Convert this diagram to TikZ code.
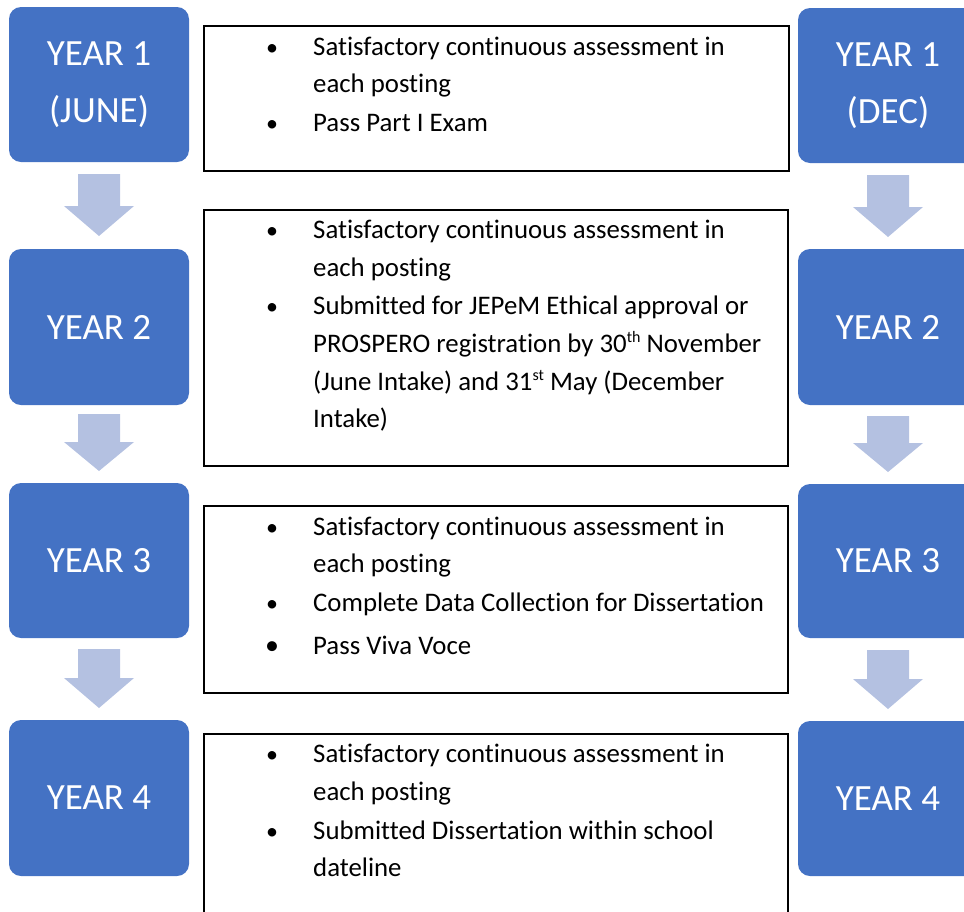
\documentclass[tikz,border=0pt]{standalone}
\usepackage{fontspec}
\setmainfont{Carlito}[Ligatures=CommonOff]
\definecolor{boxblue}{HTML}{4472C4}
\definecolor{arrowblue}{HTML}{B4C1E1}
\newcommand{\supr}[1]{\raisebox{0.75ex}{\fontsize{16}{16}\selectfont #1}}
\begin{document}
\begin{tikzpicture}[x=1pt,y=-1pt,
  yearbox/.style={fill=boxblue, rounded corners=12pt, minimum width=180pt, text=white, align=center, inner sep=0pt, font=\fontsize{37}{57}\selectfont},
  textbox/.style={draw=black, line width=1.6pt, anchor=north west, inner sep=0pt},
  itemtext/.style={anchor=base west, inner sep=0pt, font=\fontsize{26.8}{29}\selectfont},
  bulletmark/.style={anchor=base, inner sep=0pt, font=\fontsize{24}{29}\selectfont},
  blockarrow/.style={fill=arrowblue}]
\useasboundingbox (0,0) rectangle (964,911);
\clip (0,0) rectangle (964,911);
% left year boxes
\node[yearbox, minimum height=155pt] (L1) at (99,84.5) {YEAR 1\\(JUNE)};
\node[yearbox, minimum height=156pt] (L2) at (99,327) {YEAR 2};
\node[yearbox, minimum height=155pt] (L3) at (99,560.5) {YEAR 3};
\node[yearbox, minimum height=156pt] (L4) at (99,798) {YEAR 4};
% right year boxes
\node[yearbox, minimum height=155pt] (R1) at (888,85.5) {YEAR 1\\(DEC)};
\node[yearbox, minimum height=156pt] (R2) at (888,327) {YEAR 2};
\node[yearbox, minimum height=154pt] (R3) at (888,561) {YEAR 3};
\node[yearbox, minimum height=155pt] (R4) at (888,798.5) {YEAR 4};
% block arrows
\newcommand{\dnarrow}[4]{% xcenter, top, headstart, tip
  \fill[blockarrow] (#1-21,#2) -- (#1+21,#2) -- (#1+21,#3) -- (#1+35,#3) -- (#1,#4) -- (#1-35,#3) -- (#1-21,#3) -- cycle;}
\dnarrow{99}{174}{206}{236}
\dnarrow{99}{414}{442}{471}
\dnarrow{99}{649}{678}{708}
\dnarrow{888}{175}{207}{237}
\dnarrow{888}{416}{443}{472}
\dnarrow{888}{650}{679}{709}
% text boxes
\node[textbox, minimum width=585pt, minimum height=145pt] (T1) at (203,25) {};
\node[textbox, minimum width=584pt, minimum height=256pt] (T2) at (203,209) {};
\node[textbox, minimum width=584pt, minimum height=187pt] (T3) at (203,505) {};
\node[textbox, minimum width=584pt, minimum height=200pt] (T4) at (203,733) {};
% box 1
\node[bulletmark] (b1a) at (272,55) {•};
\node[itemtext] (t1a) at (313,55) {Satisfactory continuous assessment in};
\node[itemtext] (t1b) at (313,92) {each posting};
\node[bulletmark] (b1b) at (272,131) {•};
\node[itemtext] (t1c) at (313,131) {Pass Part I Exam};
% box 2
\node[bulletmark] (b2a) at (272,238) {•};
\node[itemtext] (t2a) at (313,238) {Satisfactory continuous assessment in};
\node[itemtext] (t2b) at (313,276) {each posting};
\node[bulletmark] (b2b) at (272,314) {•};
\node[itemtext] (t2c) at (313,314) {Submitted for JEPeM Ethical approval or};
\node[itemtext] (t2d) at (313,352) {PROSPERO registration by 30\supr{th} November};
\node[itemtext] (t2e) at (313,390) {(June Intake) and 31\supr{st} May (December};
\node[itemtext] (t2f) at (313,427) {Intake)};
% box 3
\node[bulletmark] (b3a) at (272,535) {•};
\node[itemtext] (t3a) at (313,535) {Satisfactory continuous assessment in};
\node[itemtext] (t3b) at (313,572) {each posting};
\node[bulletmark] (b3b) at (272,611) {•};
\node[itemtext] (t3c) at (313,611) {Complete Data Collection for Dissertation};
\node[bulletmark, font=\fontsize{28}{29}\selectfont] (b3c) at (272,654) {•};
\node[itemtext] (t3d) at (313,654) {Pass Viva Voce};
% box 4
\node[bulletmark] (b4a) at (272,762) {•};
\node[itemtext] (t4a) at (313,762) {Satisfactory continuous assessment in};
\node[itemtext] (t4b) at (313,800) {each posting};
\node[bulletmark] (b4b) at (272,839) {•};
\node[itemtext] (t4c) at (313,839) {Submitted Dissertation within school};
\node[itemtext] (t4d) at (313,876) {dateline};
\end{tikzpicture}
\end{document}
